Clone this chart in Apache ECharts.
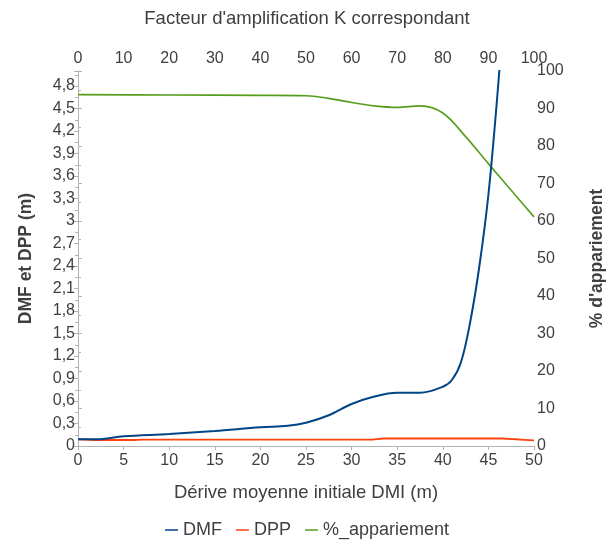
<!DOCTYPE html>
<html>
<head>
<meta charset="utf-8">
<script src="https://cdn.jsdelivr.net/npm/echarts@6/dist/echarts.min.js"></script>
<style>
html,body{margin:0;padding:0;background:#fff;}
#chart{width:614px;height:542px;}
</style>
</head>
<body>
<div id="chart"></div>
<script>
// ---- Data ----
var titleText = "Facteur d'amplification K correspondant";
var seriesNames = ["DMF", "DPP", "%_appariement"];

var dmfX = [0, 2, 5, 10, 15, 20, 23, 25, 27.5, 30, 32.5, 35, 37.5, 40, 41, 42, 43, 44, 45, 46, 47];
var dmfY = [0.09, 0.09, 0.13, 0.16, 0.2, 0.25, 0.27, 0.31, 0.41, 0.56, 0.66, 0.71, 0.71, 0.79, 0.88, 1.12, 1.65, 2.39, 3.35, 4.7, 6.3];

var dppX = [0, 2, 6, 7, 20, 32, 33.5, 40, 46.5, 48, 50];
var dppY = [0.09, 0.08, 0.08, 0.085, 0.085, 0.085, 0.1, 0.1, 0.1, 0.09, 0.075];

var appX = [0, 10, 20, 25, 27.5, 30, 32.5, 35, 37.5, 40, 42.5, 45, 47.5, 50];
var appY = [93.7, 93.6, 93.5, 93.4, 92.7, 91.6, 90.7, 90.3, 90.7, 88.8, 82.5, 75.3, 68.2, 61.1];

function pairs(xs, ys) { return xs.map(function (x, i) { return [x, ys[i]]; }); }
function fmtComma(v) { return String(Number(v.toFixed(2))).replace('.', ','); }

var textColor = '#3f3f3f';
var axisGray = '#b3b3b3';
var fontFam = '"Liberation Sans", Arial, sans-serif';

var chart = echarts.init(document.getElementById('chart'), null, {renderer: 'canvas'});
chart.setOption({
  animation: false,
  textStyle: {fontFamily: fontFam},
  title: {
    text: titleText, left: 'center', top: 4,
    textStyle: {fontSize: 18.5, fontWeight: 'normal', color: textColor, fontFamily: fontFam}
  },
  legend: {
    data: seriesNames, top: 516, left: 'center',
    icon: 'rect', itemWidth: 13, itemHeight: 1.5, itemGap: 14,
    textStyle: {fontSize: 18, color: textColor, fontFamily: fontFam}
  },
  grid: {left: 78, right: 79, top: 71, bottom: 96, containLabel: false},
  xAxis: [
    {
      type: 'value', position: 'bottom', min: 0, max: 50, interval: 5,
      name: 'Dérive moyenne initiale DMI (m)', nameLocation: 'middle', nameGap: 37,
      nameTextStyle: {fontSize: 18.5, color: textColor, fontFamily: fontFam},
      axisLine: {show: true, lineStyle: {color: axisGray, width: 1}},
      axisTick: {show: true, length: 4, lineStyle: {color: axisGray}},
      splitLine: {show: false},
      axisLabel: {fontSize: 16, color: textColor, margin: 7, fontFamily: fontFam}
    },
    {
      type: 'value', position: 'top', min: 0, max: 100, interval: 10,
      axisLine: {show: true, lineStyle: {color: axisGray, width: 1}},
      axisTick: {show: true, length: 4, inside: true, lineStyle: {color: axisGray}},
      splitLine: {show: false},
      axisLabel: {fontSize: 16, color: textColor, margin: 4, fontFamily: fontFam}
    }
  ],
  yAxis: [
    {
      type: 'value', position: 'left', min: 0, max: 5, interval: 0.3,
      name: 'DMF et DPP (m)', nameLocation: 'middle', nameGap: 43, nameRotate: 90,
      nameTextStyle: {fontSize: 17.5, fontWeight: 'bold', color: textColor, fontFamily: fontFam},
      axisLine: {show: true, lineStyle: {color: axisGray, width: 1}},
      axisTick: {show: true, length: 4, lineStyle: {color: axisGray}},
      minorTick: {show: true, splitNumber: 2, length: 3, lineStyle: {color: axisGray}},
      splitLine: {show: false},
      axisLabel: {fontSize: 16, color: textColor, margin: 3, showMaxLabel: false, fontFamily: fontFam,
        formatter: fmtComma}
    },
    {
      type: 'value', position: 'right', min: 0, max: 100, interval: 10,
      name: "% d'appariement", nameLocation: 'middle', nameGap: 54, nameRotate: 90,
      nameTextStyle: {fontSize: 17.5, fontWeight: 'bold', color: textColor, fontFamily: fontFam},
      axisLine: {show: true, lineStyle: {color: axisGray, width: 1}},
      axisTick: {show: true, length: 4, lineStyle: {color: axisGray}},
      minorTick: {show: true, splitNumber: 2, length: 3, lineStyle: {color: axisGray}},
      splitLine: {show: false},
      axisLabel: {fontSize: 16, color: textColor, margin: 3, fontFamily: fontFam}
    }
  ],
  series: [
    {
      name: seriesNames[0], type: 'line', xAxisIndex: 0, yAxisIndex: 0,
      data: pairs(dmfX, dmfY), smooth: 0.35, showSymbol: false, symbol: 'none', clip: true, z: 5,
      itemStyle: {color: '#004586'}, lineStyle: {color: '#004586', width: 2}
    },
    {
      name: seriesNames[1], type: 'line', xAxisIndex: 0, yAxisIndex: 0,
      data: pairs(dppX, dppY), smooth: 0.2, showSymbol: false, symbol: 'none', clip: true, z: 4,
      itemStyle: {color: '#ff420e'}, lineStyle: {color: '#ff420e', width: 1.8}
    },
    {
      name: seriesNames[2], type: 'line', xAxisIndex: 0, yAxisIndex: 1,
      data: pairs(appX, appY), smooth: 0.35, showSymbol: false, symbol: 'none', clip: true, z: 3,
      itemStyle: {color: '#579d1c'}, lineStyle: {color: '#579d1c', width: 1.6}
    }
  ]
});
</script>
</body>
</html>
